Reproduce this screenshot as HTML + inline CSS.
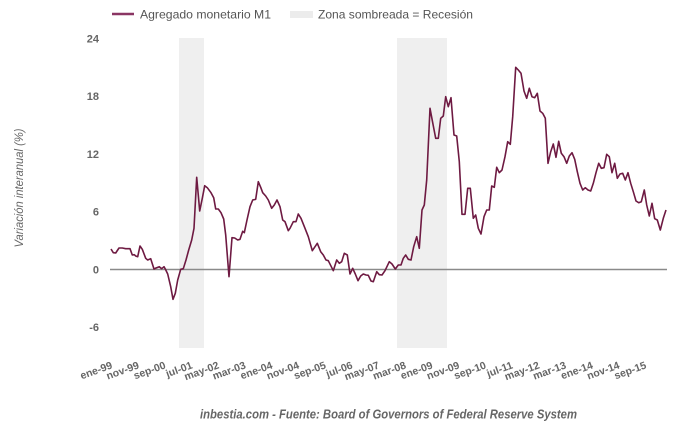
<!DOCTYPE html>
<html><head><meta charset="utf-8"><style>
html,body{margin:0;padding:0;background:#fff;}
svg{display:block;font-family:"Liberation Sans",Arial,sans-serif;}
</style></head><body>
<svg width="680" height="434" viewBox="0 0 680 434" xmlns="http://www.w3.org/2000/svg">
<rect x="0" y="0" width="680" height="434" fill="#fff"/>
<!-- legend -->
<line x1="112" y1="14" x2="134" y2="14" stroke="#8a3563" stroke-width="2.5"/>
<text x="140" y="18.5" font-size="12" fill="#555" textLength="131" lengthAdjust="spacingAndGlyphs">Agregado monetario M1</text>
<rect x="290" y="11" width="23" height="7" fill="#ececec"/>
<text x="318" y="18.5" font-size="12" fill="#555" textLength="155" lengthAdjust="spacingAndGlyphs">Zona sombreada = Recesión</text>
<!-- recessions -->
<rect x="179" y="38" width="25" height="310" fill="#efefef"/>
<rect x="397" y="38" width="50" height="310" fill="#efefef"/>
<!-- y labels -->
<g font-size="11" font-weight="bold" fill="#666" text-anchor="end">
<text x="99" y="42.5">24</text>
<text x="99" y="100.2">18</text>
<text x="99" y="158">12</text>
<text x="99" y="215.7">6</text>
<text x="99" y="273.5">0</text>
<text x="99" y="331.2">-6</text>
</g>
<text transform="translate(23,188) rotate(-90)" font-size="12" font-style="italic" fill="#666" text-anchor="middle" textLength="119" lengthAdjust="spacingAndGlyphs">Variación interanual (%)</text>
<!-- zero line -->
<line x1="110" y1="269.5" x2="667" y2="269.5" stroke="#8a8a8a" stroke-width="1.5"/>
<!-- series -->
<polyline fill="none" stroke="#6e1a42" stroke-width="1.6" stroke-linejoin="round" points="
111,249 113.3,252.7 115.7,253 119,248 122.3,248 125.7,248.7 130,248.7 132.3,255 134.3,254.7 135.7,256 137.7,256.7 140,246 142.3,249.3 145.7,258.3 147.7,260 150.7,258.7 154,269 156,268 159.3,266.7 161.7,268.7 164,266.7 165.3,269 167.7,274 170.7,286.7 173,299.3 175.3,293.3 177.7,280 180.7,269.3 183.3,268.7 186,260 188.7,250 191.7,240 194,228.3 196.7,177.3 199.7,211 202.3,198.3 204.7,185.7 207.3,187.7 211,192.7 213.7,197.7 215.7,209 218.3,209 221,212.7 223.7,219 225.7,235 229,276.7 232,237.7 234.7,238 237.7,240 240,239.3 242.7,231.3 244.3,232.7 247,220 250,206.7 252.7,200 255.7,199.3 258.3,181.7 260.7,187.3 262.7,192.7 265.7,196 268.3,200 271.7,208.3 274.3,205 277,200 280,206.7 282.7,220 285,221.7 288.3,230.7
290,228.3 293.3,221.7 296,221.7 298.3,214 301,218.3 305,228.3 308.3,236.7 312.3,250.7 317.3,243.3 320.7,251.7 323.3,255 326,260 328.3,260.7 333.3,270.7 336.7,260 339.3,263.3 341.7,261.7 344.3,253.3 347.3,255 350,274 352.7,268.3 355.3,274 358,280.7 360.7,276 363.3,274 366,275 368.3,275.3 371,281 373.3,281.7 376.7,271.7 379.3,274.7 382,275 385,270.7 389.3,261.7 392,264 395.3,269
398.3,265 401,265 403.3,258.3 405.7,255 408.3,259.3 411,260 413.7,246.7 416.7,236.7 419.3,248.3 422,210 424.3,205 426.7,180 430,108.3 432.7,122.7 435.7,138.3 438.3,138.3 440.7,118.3 443.3,116 445.7,96.7 448.3,106.7 451,97.7 454,135 456.7,136 459.3,161.7 462,214.3 465,214.3 467.7,188.3 470.3,188.3 473.3,218.3 475.7,215 478.3,228.3 481,234 484,216.7 486.7,210 489.3,210 491.7,186 494.3,187.3 496.7,167.3 499.3,172.7 502,170 505,156.7 507.7,141.7 510.3,144.3 512.7,116.7 515.7,67.3 518.3,70 521,73.3 524,91 526.7,98.3 529.3,88.3 532,96.7 534.7,97.7 537.3,93.3 540,111 542.7,113.3 545.3,118.3
548,163.3 550.7,151.7 553.3,144 556,157.3 558.7,141.3 561.3,153.3 564,156.7 566.7,163.3 569.3,156 572,152.7 574.7,159.3 577.3,171.7 580,183.3 582.7,190 585.3,187.7 588,190 590.7,191 593.3,183.3 596,172.7 598.7,163.3 601.3,168.3 604,167.7 606.7,154.3 609.3,156.7 612,172.7 614.7,163.3 617.3,178.3 620,174 622.7,173.3 625.3,180 628,172.7 630.7,183.3 633.3,191.7 636,201 638.7,202.7 641.3,201.7 644.3,190 646.7,205 649.3,216 652,203.3 654.7,218.7 657.3,220 660.3,230 663.3,218.3 666,210"/>
<!-- x labels -->
<g font-size="10.5" font-weight="bold" fill="#666" text-anchor="end">
<text transform="translate(113,368) rotate(-20)">ene-99</text>
<text transform="translate(139.7,368) rotate(-20)">nov-99</text>
<text transform="translate(166.4,368) rotate(-20)">sep-00</text>
<text transform="translate(193.1,368) rotate(-20)">jul-01</text>
<text transform="translate(219.8,368) rotate(-20)">may-02</text>
<text transform="translate(246.5,368) rotate(-20)">mar-03</text>
<text transform="translate(273.2,368) rotate(-20)">ene-04</text>
<text transform="translate(299.9,368) rotate(-20)">nov-04</text>
<text transform="translate(326.6,368) rotate(-20)">sep-05</text>
<text transform="translate(353.3,368) rotate(-20)">jul-06</text>
<text transform="translate(380,368) rotate(-20)">may-07</text>
<text transform="translate(406.7,368) rotate(-20)">mar-08</text>
<text transform="translate(433.4,368) rotate(-20)">ene-09</text>
<text transform="translate(460.1,368) rotate(-20)">nov-09</text>
<text transform="translate(486.8,368) rotate(-20)">sep-10</text>
<text transform="translate(513.5,368) rotate(-20)">jul-11</text>
<text transform="translate(540.2,368) rotate(-20)">may-12</text>
<text transform="translate(566.9,368) rotate(-20)">mar-13</text>
<text transform="translate(593.6,368) rotate(-20)">ene-14</text>
<text transform="translate(620.3,368) rotate(-20)">nov-14</text>
<text transform="translate(647,368) rotate(-20)">sep-15</text>
</g>
<!-- caption -->
<text x="200" y="418.5" font-size="12.5" font-weight="bold" font-style="italic" fill="#666" textLength="377" lengthAdjust="spacingAndGlyphs">inbestia.com - Fuente: Board of Governors of Federal Reserve System</text>
</svg>
</body></html>
